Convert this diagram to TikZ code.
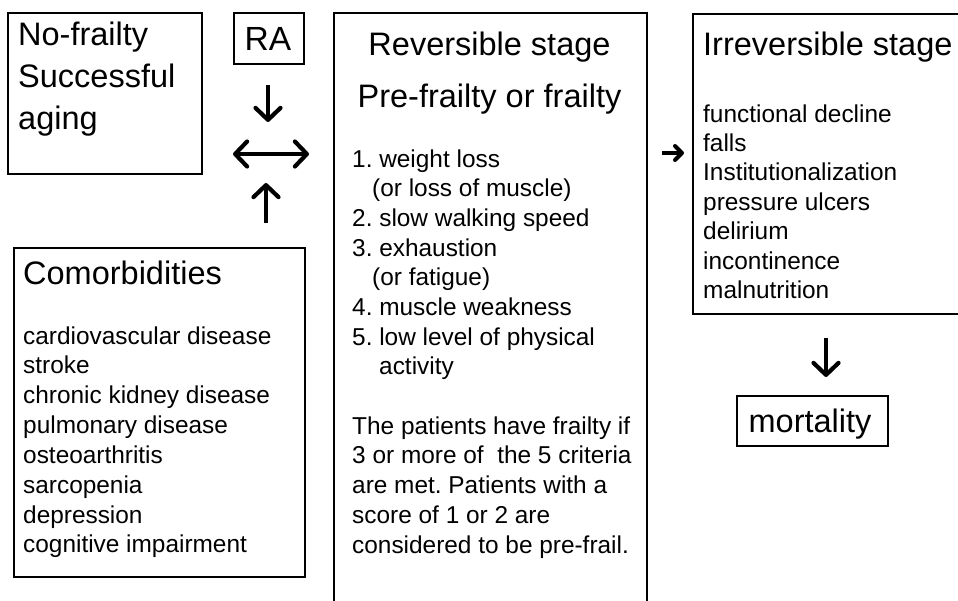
\documentclass[tikz,border=0pt]{standalone}
\usepackage{fontspec}
\setmainfont{Liberation Sans}
\usetikzlibrary{arrows.meta}
\newcommand\bigtxt{\fontsize{32.5}{37}\selectfont}
\newcommand\ratxt{\fontsize{33.5}{38}\selectfont}
\newcommand\smtxt{\fontsize{24.4}{29.7}\selectfont}
\frenchspacing
\tikzset{
  box/.style={draw, line width=1.8pt, inner sep=0pt, anchor=north west},
  txt/.style={inner sep=0pt, anchor=base west},
  ctxt/.style={inner sep=0pt, anchor=base},
  barb/.tip={Straight Barb[length=12pt,width=25pt,line width=4.2pt,line cap=round, line join=round]},
  sbarb/.tip={Straight Barb[length=7pt,width=14pt,line width=4pt,line cap=round, line join=round]},
  bigarrow/.style={line width=4pt, -barb},
  dblarrow/.style={line width=4pt, barb-barb},
  smallarrow/.style={line width=4pt, -sbarb}
}
\begin{document}
\frenchspacing
\begin{tikzpicture}[x=1pt,y=-1pt]
\clip (0,0) rectangle (958,600);
\fill[white] (0,0) rectangle (958,600);

% boxes
\node[box, minimum width=194pt, minimum height=161pt] (nf) at (7,12) {};
\node[box, minimum width=70pt, minimum height=51pt] (ra) at (233,12) {};
\node[box, minimum width=313pt, minimum height=610pt] (rev) at (333,12) {};
\node[box, minimum width=291pt, minimum height=329pt] (com) at (13,247) {};
\node[box, minimum width=300pt, minimum height=300pt] (irr) at (692,13) {};
\node[box, minimum width=151pt, minimum height=50pt] (mort) at (736,395) {};

% No-frailty
\node[txt, font=\bigtxt] (nf1) at (18,45) {No-frailty};
\node[txt, font=\bigtxt] (nf2) at (18,87) {Successful};
\node[txt, font=\bigtxt] (nf3) at (18,129) {aging};

% RA
\node[ctxt, font=\ratxt] (ratext) at (268,50) {RA};

% Reversible stage
\node[ctxt, font=\bigtxt] (rev1) at (489.5,55) {Reversible stage};
\node[ctxt, font=\bigtxt] (rev2) at (489.5,107) {Pre-frailty or frailty};
\foreach \x/\t [count=\i] in {352/1. weight loss, 372/(or loss of muscle), 352/2. slow walking speed, 352/3. exhaustion, 372/(or fatigue), 352/4. muscle weakness, 352/5. low level of physical, 379/activity}
  \node[txt, font=\smtxt] (crit\i) at (\x,{167+29.7*(\i-1)}) {\t};
\foreach \t [count=\i] in {The patients have frailty if, 3 or more of~ the 5 criteria, are met. Patients with a, score of 1 or 2 are, considered to be pre-frail.}
  \node[txt, font=\smtxt] (note\i) at (352,{434+29.75*(\i-1)}) {\t};

% Comorbidities
\node[txt, font=\bigtxt] (comt) at (23,284) {Comorbidities};
\foreach \t [count=\i] in {cardiovascular disease, stroke, chronic kidney disease, pulmonary disease, osteoarthritis, sarcopenia, depression, cognitive impairment}
  \node[txt, font=\smtxt] (comi\i) at (23,{344+29.85*(\i-1)}) {\t};

% Irreversible stage
\node[txt, font=\bigtxt] (irrt) at (703,55) {Irreversible stage};
\foreach \t [count=\i] in {functional decline, falls, Institutionalization, pressure ulcers, delirium, incontinence, malnutrition}
  \node[txt, font=\smtxt] (irri\i) at (703,{122+29.4*(\i-1)}) {\t};

% mortality
\node[ctxt, font=\bigtxt] (mortt) at (810,432) {mortality};

% arrow end points
\coordinate (a1s) at (268,85);  \coordinate (a1e) at (268,122);
\coordinate (a2s) at (233,154); \coordinate (a2e) at (309,154);
\coordinate (a3s) at (266,223); \coordinate (a3e) at (266,183);
\coordinate (a4s) at (662,153); \coordinate (a4e) at (684,153);
\coordinate (a5s) at (826,338); \coordinate (a5e) at (826,377);

\draw[bigarrow] (a1s) -- (a1e);
\draw[dblarrow] (a2s) -- (a2e);
\draw[bigarrow] (a3s) -- (a3e);
\draw[smallarrow] (a4s) -- (a4e);
\draw[bigarrow] (a5s) -- (a5e);
\end{tikzpicture}
\end{document}
